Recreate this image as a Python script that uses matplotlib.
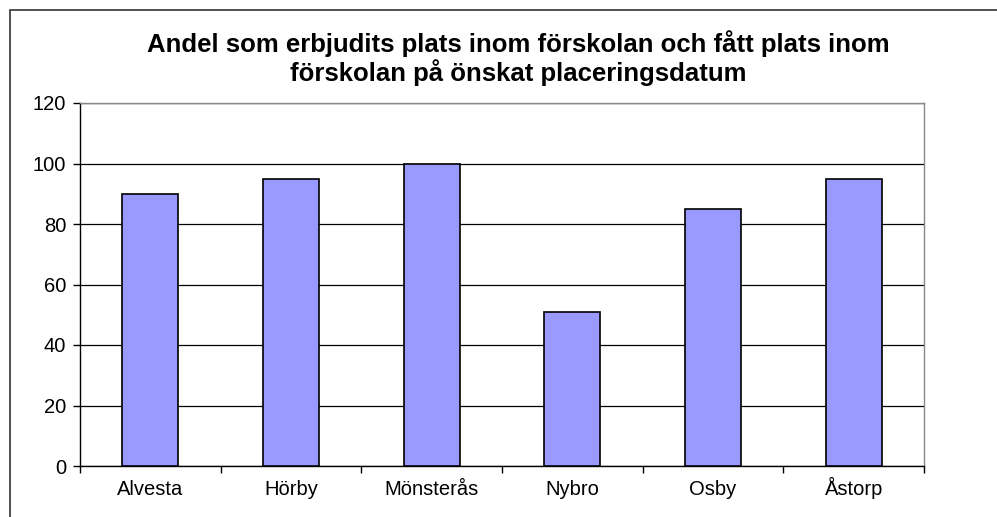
import matplotlib
matplotlib.use("Agg")
import matplotlib.pyplot as plt
from matplotlib.patches import Rectangle
import numpy as np

plt.rcParams['font.family'] = ['Liberation Sans', 'DejaVu Sans']

kommuner = ["Alvesta", "Hörby", "Mönsterås", "Nybro", "Osby", "Åstorp"]
andel = [90, 95, 100, 51, 85, 95]
yticks = [0, 20, 40, 60, 80, 100, 120]
title = "Andel som erbjudits plats inom förskolan och fått plats inom\nförskolan på önskat placeringsdatum"

W, H = 997, 517
fig = plt.figure(figsize=(W / 100, H / 100), dpi=100)
fig.patch.set_facecolor("white")

# outer chart border (right/bottom run off the picture)
fig.patches.append(Rectangle((10 / W, -0.1), 1.2, 1 - 10 / H + 0.1, transform=fig.transFigure,
                             fill=False, edgecolor="#333333", lw=1.2))

ax = fig.add_axes([80 / W, 1 - 466 / H, (924 - 80) / W, (466 - 103) / H])
x = np.arange(len(kommuner))
ax.bar(x, andel, width=0.4, color="#9999ff", edgecolor="black", linewidth=1.2, zorder=3)

ax.set_xlim(-0.5, len(kommuner) - 0.5)
ax.set_ylim(0, 120)
ax.set_yticks(yticks)
ax.set_yticklabels([str(v) for v in yticks], fontsize=14.5)
ax.yaxis.grid(True, color="black", lw=0.9, zorder=0)
ax.set_axisbelow(True)

ax.set_xticks(x)
ax.set_xticklabels(kommuner, fontsize=14.5, va="baseline")
ax.tick_params(axis="x", length=0, pad=21)
ax.set_xticks(np.arange(-0.5, len(kommuner)), minor=True)
ax.tick_params(axis="x", which="minor", length=5, width=1, direction="out")
ax.tick_params(axis="y", length=5, width=1, direction="out", pad=5)

for s in ["left", "bottom"]:
    ax.spines[s].set_color("black")
    ax.spines[s].set_linewidth(1)
for s in ["top", "right"]:
    ax.spines[s].set_color("#888888")
    ax.spines[s].set_linewidth(1)

fig.text(518 / W, 1 - 58 / H, title, ha="center", va="center", fontsize=18.5,
         fontweight="bold", linespacing=1.1)

fig.savefig("out.png", dpi=100)
